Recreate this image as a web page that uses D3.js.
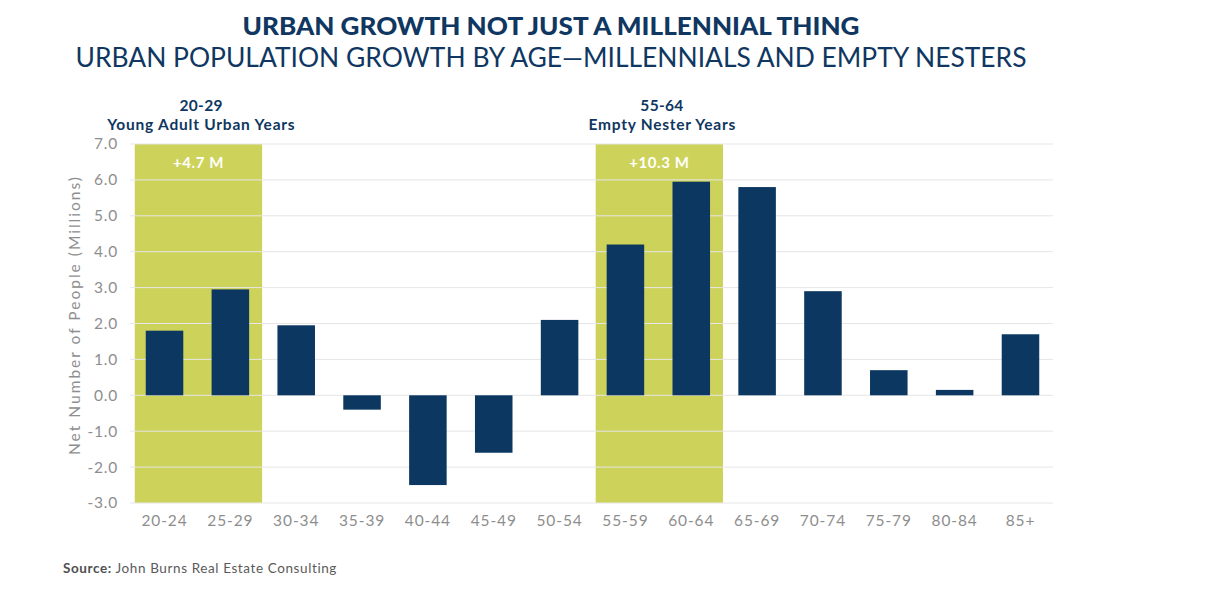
<!DOCTYPE html>
<html><head><meta charset="utf-8">
<script src="https://cdn.jsdelivr.net/npm/d3@7"></script>
<style>body{margin:0;background:#fff;} svg{display:block;}</style>
</head><body>
<svg id="chart" width="1211" height="592"></svg>
<script>
const categories = ["20-24","25-29","30-34","35-39","40-44","45-49","50-54","55-59","60-64","65-69","70-74","75-79","80-84","85+"];
const values = [1.8, 2.95, 1.95, -0.4, -2.5, -1.6, 2.1, 4.2, 5.95, 5.8, 2.9, 0.7, 0.15, 1.7];
const yTicks = [-3,-2,-1,0,1,2,3,4,5,6,7];
const highlights = [
  {from:"20-24", to:"25-29", range:"20-29", label:"Young Adult Urban Years", total:"+4.7 M"},
  {from:"55-59", to:"60-64", range:"55-64", label:"Empty Nester Years", total:"+10.3 M"}
];

const navy = "#0b3761", lime = "#cdd35a", grid = "#e6e6e6", tickGray = "#8e8e8e";
const font = "Lato, 'Open Sans', sans-serif";
const svg = d3.select("#chart");

const x = d3.scaleBand().domain(categories).range([131.6, 1053.4]).paddingInner(0.43).paddingOuter(0.215);
const y = d3.scaleLinear().domain([-3, 7]).range([503, 144]);
const fmt = d => d3.format(".1f")(d).replace("\u2212", "-");

// titles
svg.append("text").attr("x", 551).attr("y", 35).attr("text-anchor","middle")
  .attr("font-family", font).attr("font-weight", 900).attr("font-size", 24).attr("fill", "#0f3761")
  .attr("textLength", 617).attr("lengthAdjust","spacingAndGlyphs")
  .text("URBAN GROWTH NOT JUST A MILLENNIAL THING");
svg.append("text").attr("x", 551).attr("y", 67).attr("text-anchor","middle")
  .attr("font-family", font).attr("font-weight", 400).attr("font-size", 26).attr("fill", "#0f3761")
  .attr("textLength", 951).attr("lengthAdjust","spacingAndGlyphs")
  .text("URBAN POPULATION GROWTH BY AGE\u2014MILLENNIALS AND EMPTY NESTERS");

const bandX = h => [x(h.from) - 11, x(h.to) + x.bandwidth() + 13];

// highlight bands
highlights.forEach(h => {
  const [x0, x1] = bandX(h);
  const cx = (x0 + x1) / 2 + 2.5;
  svg.append("rect").attr("x", x0).attr("y", y(7)).attr("width", x1 - x0).attr("height", y(-3) - y(7)).attr("fill", lime);
  svg.append("text").attr("x", cx).attr("y", 111).attr("text-anchor","middle")
    .attr("font-family", font).attr("font-weight", 700).attr("font-size", 15.5).attr("fill", "#0f3761")
    .attr("textLength", 43).attr("lengthAdjust","spacing").text(h.range);
  svg.append("text").attr("x", cx).attr("y", 130).attr("text-anchor","middle")
    .attr("font-family", font).attr("font-weight", 700).attr("font-size", 15.5).attr("fill", "#0f3761")
    .attr("textLength", h.label.length * 8.15).attr("lengthAdjust","spacing").text(h.label);
});

// grid
svg.append("g").selectAll("line").data(yTicks).join("line")
  .attr("x1", 130).attr("x2", 1053).attr("y1", d => y(d)).attr("y2", d => y(d))
  .attr("stroke", grid).attr("stroke-width", 1);

// totals in bands
highlights.forEach(h => {
  const [x0, x1] = bandX(h);
  svg.append("text").attr("x", (x0 + x1) / 2).attr("y", 167.5).attr("text-anchor","middle")
    .attr("font-family", font).attr("font-weight", 700).attr("font-size", 15).attr("fill", "#fff")
    .attr("letter-spacing", 0.6).text(h.total);
});

// bars
svg.append("g").selectAll("rect").data(categories).join("rect")
  .attr("x", d => x(d)).attr("width", x.bandwidth())
  .attr("y", (d,i) => y(Math.max(0, values[i])))
  .attr("height", (d,i) => Math.abs(y(values[i]) - y(0)))
  .attr("fill", navy);

// y axis
const yAxis = svg.append("g").attr("transform", "translate(122,0)")
  .call(d3.axisLeft(y).tickValues(yTicks).tickFormat(fmt).tickSize(0).tickPadding(4));
yAxis.select(".domain").remove();
yAxis.selectAll("text").attr("font-family", font).attr("font-size", 15.5).attr("fill", tickGray).attr("letter-spacing", 0.8);

// x axis
const xAxis = svg.append("g").attr("transform", `translate(0,${y(-3)})`)
  .call(d3.axisBottom(x).tickSize(0).tickPadding(12));
xAxis.select(".domain").remove();
xAxis.selectAll("text").attr("font-family", font).attr("font-size", 15.5).attr("fill", tickGray).attr("letter-spacing", 0.9);

// y title
svg.append("text").attr("transform", "translate(80,316) rotate(-90)").attr("text-anchor","middle")
  .attr("font-family", font).attr("font-size", 15.5).attr("fill", tickGray)
  .attr("textLength", 278).attr("lengthAdjust","spacing")
  .text("Net Number of People (Millions)");

// source
const src = svg.append("text").attr("x", 63).attr("y", 573)
  .attr("font-family", font).attr("font-size", 13.5).attr("fill", "#5a5a5a").attr("letter-spacing", 0.6);
src.append("tspan").attr("font-weight", 700).attr("fill", "#505050").text("Source:");
src.append("tspan").text(" John Burns Real Estate Consulting");
</script>
</body></html>
